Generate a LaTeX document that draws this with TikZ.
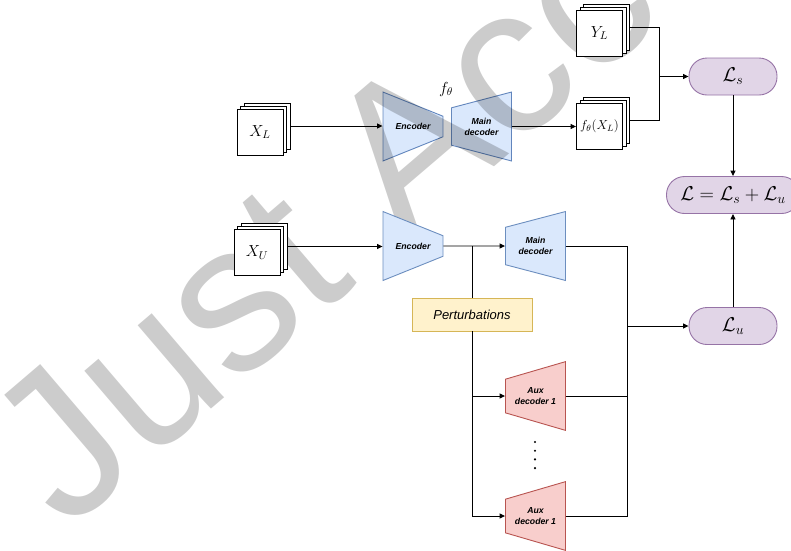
\RequirePackage{fix-cm}
\documentclass[tikz,border=0pt]{standalone}
\usepackage{fontspec}
\newfontfamily\drawiofont{Liberation Sans}
\usetikzlibrary{arrows.meta,shapes.geometric}

\definecolor{blueface}{HTML}{DAE8FC}
\definecolor{blueline}{HTML}{6C8EBF}
\definecolor{redface}{HTML}{F8CECC}
\definecolor{redline}{HTML}{B85450}
\definecolor{yellowface}{HTML}{FFF2CC}
\definecolor{yellowline}{HTML}{D6B656}
\definecolor{purpleface}{HTML}{E1D5E7}
\definecolor{purpleline}{HTML}{9673A6}
\definecolor{wmgray}{HTML}{CCCCCC}

\begin{document}
\begin{tikzpicture}
  [x=1pt,y=-1pt,line width=0.9pt,
   every node/.style={inner sep=0pt},
   page/.style={draw,fill=white,minimum width=46pt,minimum height=46pt},
   coder/.style={trapezium,trapezium stretches=true,trapezium angle=77.8,
     draw=blueline,fill=blueface,minimum width=69pt,minimum height=60pt,
     align=center,font=\drawiofont\bfseries\itshape\fontsize{8.7}{11}\selectfont},
   enc/.style={coder,shape border rotate=270},
   dec/.style={coder,shape border rotate=90},
   aux/.style={dec,draw=redline,fill=redface},
   loss/.style={draw=purpleline,fill=purpleface,rounded corners=18pt,
     minimum width=88pt,minimum height=37pt,font=\fontsize{20}{20}\selectfont},
   link/.style={-{Triangle[length=5.5pt,width=5pt]}}]

  \useasboundingbox (0,0) rectangle (791,550);

  % watermark
  \node[text=wmgray,rotate=40.5,anchor=base west,
    font=\drawiofont\fontsize{210}{210}\selectfont] (wm) at (66,533) {Just Accepted};

  % stacked inputs and outputs
  \foreach \nm/\cx/\cy/\fs/\lbl in {xl/260/132/16/X_L,xu/257/252.5/16/X_U,
      yl/599.5/33/16/Y_L,fx/599.5/126/13/f_\theta(X_L)} {
    \node[page] (\nm-b) at (\cx+7,\cy-6) {};
    \node[page] (\nm-m) at (\cx+3.5,\cy-3) {};
    \node[page,font=\fontsize{\fs}{\fs}\selectfont] (\nm) at (\cx,\cy) {$\lbl$};
  }

  % labelled branch
  \begin{scope}[blend mode=multiply]
    \node[enc] (enc1) at (413,126.5) {Encoder};
    \node[dec] (dec1) at (481.5,126.5) {Main\\decoder};
  \end{scope}
  \node[font=\fontsize{16}{16}\selectfont] (ftheta) at (446,89) {$f_\theta$};

  % unlabelled branch
  \node[enc] (enc2) at (413,246) {Encoder};
  \node[dec] (dec2) at (535.5,246) {Main\\decoder};
  \node[aux] (aux1) at (535.5,396) {Aux\\decoder 1};
  \node[aux] (aux2) at (535.5,516) {Aux\\decoder 1};
  \node[draw=yellowline,fill=yellowface,minimum width=120pt,minimum height=33pt,
    font=\drawiofont\itshape\fontsize{13}{13}\selectfont] (pert) at (472,314.5) {Perturbations};
  \foreach \k in {0,...,3}
    \fill (535,442+8.7*\k) circle (1.2pt);

  % losses
  \node[loss] (ls) at (733,76.5) {$\mathcal{L}_s$};
  \node[loss,minimum width=133pt] (ltot) at (733,195) {$\mathcal{L}=\mathcal{L}_s+\mathcal{L}_u$};
  \node[loss] (lu) at (733,326) {$\mathcal{L}_u$};

  % connectors
  \coordinate (sjoin) at (659,76.5);
  \coordinate (ujoin) at (627,326);
  \draw[link] (xl-b.east) -- (xl-b.east -| enc1.west);
  \draw[link] (dec1.east) -- (dec1.east -| fx.west);
  \draw (yl-b.east) -| (sjoin) |- (fx-b.east);
  \draw[link] (sjoin) -- (ls.west);
  \draw[link] (ls.south) -- (ltot.north);
  \draw[link] (lu.north) -- (ltot.south);
  \draw[link] (xu-b.east) -- (xu-b.east -| enc2.west);
  \draw[link] (enc2.east) -- (dec2.west);
  \draw (pert.north |- enc2.east) -- (pert.north);
  \draw[link] (pert.south) |- (aux1.west);
  \draw[link] (pert.south) |- (aux2.west);
  \foreach \src in {dec2,aux1,aux2}
    \draw (\src.east) -| (ujoin);
  \draw[link] (ujoin) -- (lu.west);
\end{tikzpicture}
\end{document}
